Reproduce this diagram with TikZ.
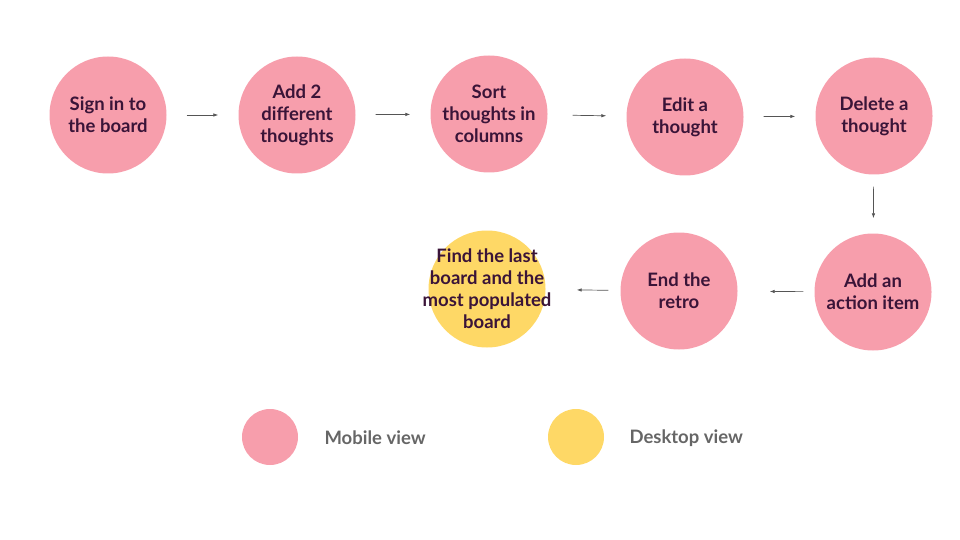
\documentclass[tikz,border=0pt]{standalone}
\usepackage{fontspec}
\setmainfont{Lato}
\usepackage{tikz}
\usetikzlibrary{arrows.meta}
\usepackage{xcolor}
\definecolor{mobpink}{HTML}{F79EAC}
\definecolor{deskyellow}{HTML}{FED866}
\definecolor{txtpurple}{HTML}{3A1438}
\definecolor{arrgray}{HTML}{555555}
\definecolor{leggray}{HTML}{666666}
\tikzset{
  stepcircle/.style={circle, minimum size=117pt, inner sep=-12pt, align=center,
    font=\fontsize{18.5}{22}\selectfont\bfseries, text=txtpurple},
  mobile/.style={stepcircle, fill=mobpink},
  desktop/.style={stepcircle, fill=deskyellow},
  flow/.style={-{Latex[length=5pt,width=3.5pt]}, line width=0.7pt, draw=arrgray, shorten <=20pt, shorten >=20pt},
  legdot/.style={circle, minimum size=56pt, inner sep=0pt},
  legtext/.style={anchor=west, font=\fontsize{18.5}{20}\selectfont\bfseries, text=leggray},
}
\begin{document}
\begin{tikzpicture}[x=1pt, y=-1pt]
  \useasboundingbox (0,0) rectangle (960,540);
  % Schritte, obere Reihe
  \node[mobile] (signin) at (108,115) {Sign in to\\the board};
  \node[mobile] (addtwo) at (297,115) {Add 2\\different\\thoughts};
  \node[mobile] (sort) at (489,114) {Sort\\thoughts in\\columns};
  \node[mobile] (edit) at (685,117) {Edit a\\thought};
  \node[mobile] (delete) at (874,116) {Delete a\\thought};
  % untere Reihe, von rechts nach links
  \node[mobile] (action) at (873,292) {Add an\\action item};
  \node[mobile] (endretro) at (679,291) {End the\\retro};
  \node[desktop, inner sep=-25pt] (find) at (487,289) {Find the last\\board and the\\most populated\\board};
  % Pfeile
  \draw[flow] (signin) -- (addtwo);
  \draw[flow] (addtwo) -- (sort);
  \draw[flow, shorten <=25pt] (sort) -- (edit);
  \draw[flow] (edit) -- (delete);
  \draw[flow, shorten <=12pt, shorten >=15pt] (delete) -- (action);
  \draw[flow, shorten <=11pt, shorten >=32pt] (action) -- (endretro);
  \draw[flow, shorten <=12pt, shorten >=31pt] (endretro) -- (find);
  % Legende
  \node[legdot, fill=mobpink] (legmob) at (270,437) {};
  \node[legtext] (legmobtxt) at (321,438) {Mobile view};
  \node[legdot, fill=deskyellow] (legdesk) at (576,437) {};
  \node[legtext] (legdesktxt) at (626,438) {Desktop view};
\end{tikzpicture}
\end{document}
